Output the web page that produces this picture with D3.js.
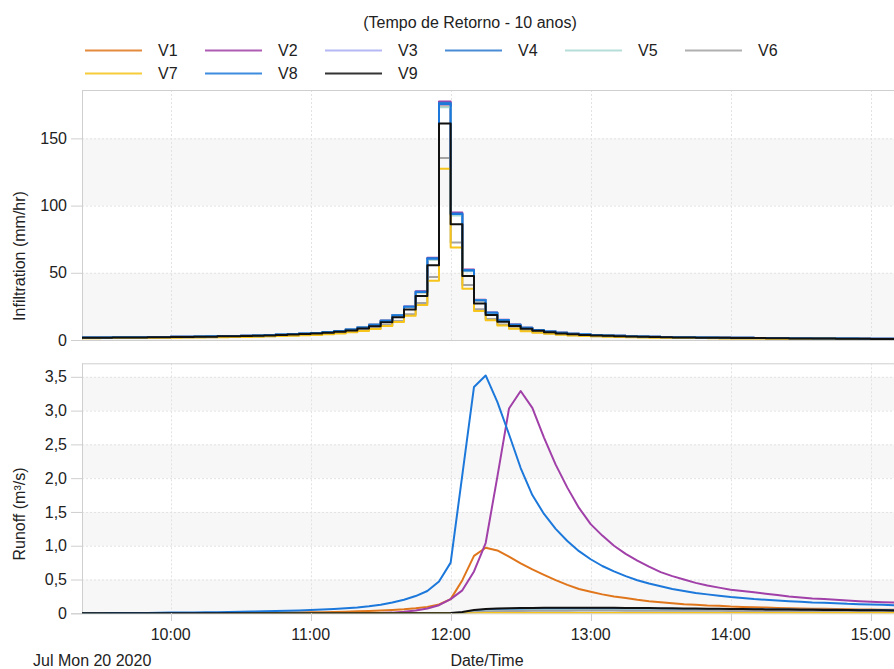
<!DOCTYPE html>
<html>
<head>
<meta charset="utf-8">
<script src="https://cdn.jsdelivr.net/npm/d3@7"></script>
<style>
body { margin: 0; background: #fff; }
svg text { font-family: "Liberation Sans", Arial, sans-serif; fill: #222; }
</style>
</head>
<body>
<svg id="chart"></svg>
<script>
// series names + colours
const names = ["V1", "V2", "V3", "V4", "V5", "V6", "V7", "V8", "V9"]
const colors = ["#e0761c", "#a040a8", "#a8acf4", "#2b78d0", "#a9d9d2", "#a3a3a3", "#f6c41a", "#1c78da", "#111111"]

// every value is one 5 minute step, first step at 09:20
const firstStep = new Date(2020, 6, 20, 9, 20)
const stepMin = 5

// infiltration (mm/hr)
const infV1 = [1.8,1.8,1.9,2.0,2.0,2.1,2.2,2.3,2.4,2.5,2.6,2.7,2.9,3.0,3.2,3.4,3.7,4.0,4.4,4.8,5.3,5.9,6.7,7.8,9.3,11.3,14.3,18.4,24.6,35.5,60.0,174.2,
  93.0,51.4,29.4,20.1,14.8,11.3,9.0,7.4,6.3,5.4,4.7,4.2,3.7,3.4,3.1,2.8,2.6,2.4,2.3,2.1,2.0,1.9,1.8,1.7,1.6,1.6,1.5,1.4,1.4,1.3,1.3,1.2,1.2,1.1,1.1,1.0,0.9,0.9,0.9,0.8]
const infV2 = [1.8,1.8,1.9,2.0,2.0,2.1,2.2,2.3,2.4,2.5,2.6,2.7,2.9,3.0,3.2,3.4,3.7,4.0,4.4,4.8,5.3,5.9,6.7,7.8,9.3,11.4,14.5,18.6,25.0,36.2,61.2,177.5,
  94.8,52.5,29.9,20.4,15.0,11.5,9.2,7.5,6.3,5.4,4.7,4.2,3.7,3.4,3.1,2.8,2.6,2.4,2.3,2.1,2.0,1.9,1.8,1.7,1.6,1.6,1.5,1.4,1.4,1.3,1.3,1.2,1.2,1.1,1.1,1.0,0.9,0.9,0.9,0.8]
const infV3 = [1.8,1.8,1.9,2.0,2.0,2.1,2.2,2.3,2.4,2.5,2.6,2.7,2.9,3.0,3.2,3.4,3.7,4.0,4.4,4.8,5.3,5.9,6.7,7.8,9.3,11.3,14.4,18.4,24.7,35.7,60.3,175.0,
  93.5,51.6,29.5,20.2,14.8,11.3,9.0,7.4,6.3,5.4,4.7,4.2,3.7,3.4,3.1,2.8,2.6,2.4,2.3,2.1,2.0,1.9,1.8,1.7,1.6,1.6,1.5,1.4,1.4,1.3,1.3,1.2,1.2,1.1,1.1,1.0,0.9,0.9,0.9,0.8]
const infV4 = [1.8,1.8,1.9,2.0,2.0,2.1,2.2,2.3,2.4,2.5,2.6,2.7,2.9,3.0,3.2,3.4,3.7,4.0,4.4,4.8,5.3,5.9,6.7,7.8,9.3,11.3,14.4,18.5,24.8,35.9,60.8,176.5,
  94.2,52.1,29.7,20.3,14.9,11.4,9.1,7.5,6.3,5.4,4.7,4.2,3.7,3.4,3.1,2.8,2.6,2.4,2.3,2.1,2.0,1.9,1.8,1.7,1.6,1.6,1.5,1.4,1.4,1.3,1.3,1.2,1.2,1.1,1.1,1.0,0.9,0.9,0.9,0.8]
const infV5 = [1.8,1.8,1.9,2.0,2.0,2.1,2.2,2.3,2.4,2.5,2.6,2.7,2.9,3.0,3.2,3.4,3.7,4.0,4.4,4.8,5.3,5.9,6.7,7.8,9.3,11.3,14.3,18.3,24.5,35.4,59.7,173.2,
  92.6,51.2,29.3,20.0,14.7,11.2,9.0,7.4,6.2,5.3,4.7,4.2,3.7,3.4,3.1,2.8,2.6,2.4,2.3,2.1,2.0,1.9,1.8,1.7,1.6,1.6,1.5,1.4,1.4,1.3,1.3,1.2,1.2,1.1,1.1,1.0,0.9,0.9,0.9,0.8]
const infV6 = [1.4,1.4,1.5,1.5,1.5,1.6,1.7,1.8,1.8,1.9,2.0,2.1,2.2,2.3,2.5,2.6,2.8,3.1,3.4,3.7,4.1,4.5,5.2,6.0,7.2,8.7,11.1,14.2,19.1,27.6,46.8,135.5,
  72.5,40.9,22.9,15.6,11.5,8.8,7.0,5.8,4.9,4.2,3.6,3.2,2.8,2.6,2.4,2.2,2.0,1.8,1.8,1.6,1.5,1.5,1.4,1.3,1.2,1.2,1.2,1.1,1.1,1.0,1.0,0.9,0.9,0.8,0.8,0.8,0.7,0.7,0.7,0.6]
const infV7 = [1.3,1.3,1.4,1.5,1.5,1.5,1.6,1.7,1.7,1.8,1.9,2.0,2.1,2.2,2.3,2.5,2.7,2.9,3.2,3.5,3.8,4.3,4.9,5.7,6.7,8.2,10.4,13.4,18.0,26.0,44.1,127.5,
  68.8,38.2,21.5,14.7,10.8,8.3,6.6,5.4,4.6,3.9,3.4,3.0,2.7,2.5,2.2,2.0,1.9,1.7,1.7,1.5,1.5,1.4,1.3,1.2,1.2,1.2,1.1,1.0,1.0,0.9,0.9,0.9,0.9,0.8,0.8,0.7,0.7,0.7,0.7,0.6]
const infV8 = [1.8,1.8,1.9,2.0,2.0,2.1,2.2,2.3,2.4,2.5,2.6,2.7,2.9,3.0,3.2,3.4,3.7,4.0,4.4,4.8,5.3,5.9,6.7,7.8,9.3,11.3,14.4,18.5,24.7,35.8,60.5,175.6,
  93.8,51.8,29.6,20.2,14.9,11.4,9.1,7.5,6.3,5.4,4.7,4.2,3.7,3.4,3.1,2.8,2.6,2.4,2.3,2.1,2.0,1.9,1.8,1.7,1.6,1.6,1.5,1.4,1.4,1.3,1.3,1.2,1.2,1.1,1.1,1.0,0.9,0.9,0.9,0.8]
const infV9 = [1.6,1.6,1.7,1.8,1.8,1.9,2.0,2.1,2.2,2.3,2.4,2.5,2.7,2.7,2.9,3.1,3.4,3.7,4.0,4.4,4.8,5.4,6.1,7.1,8.5,10.3,13.2,16.9,22.7,32.8,55.6,161.0,
  86.2,47.7,27.2,18.6,13.6,10.4,8.3,6.9,5.8,4.9,4.3,3.8,3.4,3.1,2.8,2.6,2.4,2.2,2.1,1.9,1.8,1.7,1.6,1.6,1.5,1.5,1.4,1.3,1.3,1.2,1.2,1.1,1.1,1.0,1.0,0.9,0.8,0.8,0.8,0.7]

// runoff (m3/s)
const runV1 = [0,0,0,0.001,0.001,0.001,0.002,0.002,0.002,0.003,0.003,0.004,0.004,0.005,0.006,0.007,0.008,0.009,0.011,0.013,0.015,0.017,0.02,0.024,0.029,0.035,0.042,0.05,0.06,0.075,0.095,0.13,
  0.21,0.49,0.85,0.97,0.93,0.84,0.74,0.65,0.57,0.49,0.42,0.36,0.32,0.28,0.25,0.225,0.2,0.18,0.165,0.15,0.135,0.125,0.115,0.11,0.1,0.095,0.09,0.085,0.08,0.075,0.072,0.069,0.066,0.063,0.06,0.058,0.056,0.054,0.052,0.05]
const runV2 = [0,0,0,0,0,0,0,0,0,0,0,0,0,0,0,0,0,0,0,0,0,0,0,0,0,0,0.003,0.01,0.022,0.04,0.07,0.12,
  0.21,0.34,0.62,1.04,2.02,3.03,3.29,3.04,2.6,2.2,1.86,1.56,1.32,1.15,1.0,0.88,0.78,0.69,0.61,0.55,0.5,0.45,0.41,0.38,0.35,0.33,0.31,0.29,0.27,0.25,0.235,0.22,0.21,0.2,0.19,0.18,0.172,0.165,0.158,0.152]
const runV3 = [0,0,0,0,0,0,0,0,0,0,0,0,0,0,0,0,0,0,0,0,0,0,0,0,0,0,0,0,0,0,0,0,
  0,0.008,0.024,0.036,0.042,0.046,0.05,0.051,0.053,0.054,0.054,0.055,0.055,0.055,0.055,0.054,0.054,0.054,0.053,0.052,0.051,0.05,0.05,0.049,0.048,0.047,0.046,0.046,0.045,0.044,0.043,0.042,0.042,0.041,0.04,0.039,0.038,0.038,0.037,0.036]
const runV4 = [0,0,0,0,0,0,0,0,0,0,0,0,0,0,0,0,0,0,0,0,0,0,0,0,0,0,0,0,0,0,0,0,
  0,0.01,0.03,0.045,0.053,0.058,0.062,0.064,0.066,0.067,0.068,0.069,0.069,0.069,0.069,0.068,0.068,0.067,0.066,0.065,0.064,0.063,0.062,0.061,0.06,0.059,0.058,0.057,0.056,0.055,0.054,0.053,0.052,0.051,0.05,0.049,0.048,0.047,0.046,0.045]
const runV5 = [0,0,0,0,0,0,0,0,0,0,0,0,0,0,0,0,0,0,0,0,0,0,0,0,0,0,0,0,0,0,0,0,
  0,0.006,0.02,0.03,0.036,0.04,0.042,0.044,0.045,0.046,0.046,0.046,0.046,0.046,0.045,0.045,0.045,0.044,0.044,0.043,0.042,0.042,0.041,0.04,0.04,0.039,0.038,0.038,0.037,0.036,0.036,0.035,0.035,0.034,0.034,0.033,0.033,0.032,0.032,0.032]
const runV6 = [0,0,0,0,0,0,0,0,0,0,0,0,0,0,0,0,0,0,0,0,0,0,0,0,0,0,0,0,0,0,0,0,
  0,0.004,0.015,0.025,0.03,0.033,0.035,0.037,0.038,0.039,0.039,0.04,0.04,0.04,0.04,0.039,0.039,0.039,0.038,0.038,0.037,0.037,0.036,0.036,0.035,0.035,0.034,0.034,0.033,0.033,0.032,0.032,0.031,0.031,0.03,0.03,0.03,0.029,0.029,0.028]
const runV7 = [0,0,0,0,0,0,0,0,0,0,0,0,0,0,0,0,0,0,0,0,0,0,0,0,0,0,0,0,0,0,0,0,
  0,0.001,0.002,0.003,0.004,0.005,0.005,0.006,0.006,0.006,0.006,0.006,0.006,0.006,0.006,0.006,0.006,0.006,0.006,0.006,0.006,0.006,0.006,0.005,0.005,0.005,0.005,0.005,0.005,0.005,0.005,0.005,0.005,0.005,0.005,0.005,0.004,0.004,0.004,0.004]
const runV8 = [0,0.001,0.002,0.003,0.004,0.005,0.006,0.008,0.01,0.011,0.013,0.015,0.017,0.02,0.023,0.026,0.03,0.034,0.038,0.043,0.049,0.056,0.064,0.074,0.087,0.104,0.128,0.16,0.2,0.255,0.33,0.47,
  0.75,2.05,3.35,3.52,3.13,2.65,2.15,1.75,1.47,1.25,1.07,0.92,0.8,0.7,0.62,0.55,0.49,0.44,0.4,0.36,0.33,0.3,0.28,0.26,0.24,0.225,0.21,0.2,0.19,0.18,0.17,0.16,0.155,0.15,0.14,0.135,0.13,0.125,0.12,0.115]
const runV9 = [0,0,0,0,0,0,0,0,0,0,0,0,0,0,0,0,0,0,0,0,0,0,0,0,0,0,0,0,0,0,0,0,
  0.005,0.02,0.048,0.063,0.07,0.075,0.078,0.08,0.081,0.082,0.083,0.083,0.083,0.082,0.081,0.08,0.079,0.078,0.076,0.074,0.072,0.07,0.068,0.066,0.064,0.062,0.06,0.058,0.056,0.055,0.053,0.052,0.05,0.049,0.047,0.046,0.045,0.044,0.043,0.042]

const infTicks = [0, 50, 100, 150]
const runTicks = [0, 0.5, 1, 1.5, 2, 2.5, 3, 3.5]
const hourTicks = [10, 11, 12, 13, 14, 15]
const chartTitle = "(Tempo de Retorno - 10 anos)"

const infData = [infV1, infV2, infV3, infV4, infV5, infV6, infV7, infV8, infV9]
const runData = [runV1, runV2, runV3, runV4, runV5, runV6, runV7, runV8, runV9]

const W = 894, H = 669
const svg = d3.select("#chart").attr("width", W).attr("height", H)

const day = (h, m) => new Date(2020, 6, 20, h, m)
const x = d3.scaleTime().domain([day(9, 22), day(15, 10)]).range([82, 894])
const yInf = d3.scaleLinear().domain([0, 186]).range([340, 90])
const yRun = d3.scaleLinear().domain([0, 3.7]).range([613.3, 363.3])

const stepTime = i => d3.timeMinute.offset(firstStep, i * stepMin)
const hourDates = hourTicks.map(h => day(h, 0))

const fmtRun = v => v === 0 ? "0" : d3.format(".1f")(v).replace(".", ",")

function panel(id, y, ticks, fmt, data, curve, label, labelY) {
    const g = svg.append("g")
    const [x0, x1] = x.range()
    const [yb, yt] = y.range()

    // alternating bands
    for (let i = 0; i < ticks.length; i += 2) {
        const hi = i + 1 < ticks.length ? ticks[i + 1] : y.domain()[1]
        g.append("rect")
            .attr("x", x0).attr("width", x1 - x0)
            .attr("y", y(hi)).attr("height", y(ticks[i]) - y(hi))
            .style("fill", "#f7f7f7")
    }

    // dotted grid
    g.selectAll(".hg").data(ticks.filter(t => t > 0)).enter().append("line")
        .attr("x1", x0).attr("x2", x1)
        .attr("y1", d => y(d) + 0.5).attr("y2", d => y(d) + 0.5)
        .style("stroke", "#e2e2e2").style("stroke-dasharray", "2,2")
    g.selectAll(".vg").data(hourDates).enter().append("line")
        .attr("x1", d => Math.round(x(d)) + 0.5).attr("x2", d => Math.round(x(d)) + 0.5)
        .attr("y1", yt).attr("y2", yb)
        .style("stroke", "#e2e2e2").style("stroke-dasharray", "2,2")

    // frame
    g.append("line").attr("x1", x0).attr("x2", x1).attr("y1", yt + 0.5).attr("y2", yt + 0.5).style("stroke", "#cfcfcf")
    g.append("line").attr("x1", x0 + 0.5).attr("x2", x0 + 0.5).attr("y1", yt).attr("y2", yb).style("stroke", "#cfcfcf")
    g.append("line").attr("x1", x0 - 11).attr("x2", x1).attr("y1", yb + 0.5).attr("y2", yb + 0.5).style("stroke", "#cfcfcf")

    // y ticks
    g.selectAll(".yt").data(ticks).enter().append("line")
        .attr("x1", x0 - 11).attr("x2", x0)
        .attr("y1", d => y(d) + 0.5).attr("y2", d => y(d) + 0.5)
        .style("stroke", "#cfcfcf")
    g.selectAll(".yl").data(ticks).enter().append("text")
        .attr("x", x0 - 15).attr("y", d => y(d))
        .attr("dy", "0.35em")
        .style("text-anchor", "end").style("font-size", "16px")
        .text(fmt)

    g.append("text")
        .attr("transform", "translate(19," + labelY + ") rotate(-90)")
        .attr("dy", "0.35em")
        .style("text-anchor", "middle").style("font-size", "16px")
        .text(label)

    // series
    svg.append("clipPath").attr("id", id)
        .append("rect").attr("x", x0).attr("y", yt).attr("width", x1 - x0).attr("height", yb - yt)

    const line = d3.line()
        .x((d, i) => x(stepTime(i)))
        .y(d => y(d))
        .curve(curve)

    g.append("g").attr("clip-path", "url(#" + id + ")")
        .selectAll("path").data(data).enter().append("path")
        .attr("d", line)
        .style("fill", "none")
        .style("stroke", (d, i) => colors[i])
        .style("stroke-width", 2)
        .style("stroke-linejoin", "round")
}

panel("clipInf", yInf, infTicks, d => d, infData, d3.curveStepAfter, "Infiltration (mm/hr)", 256)
panel("clipRun", yRun, runTicks, fmtRun, runData, d3.curveLinear, "Runoff (m\u00b3/s)", 514)

// x axis under the runoff panel
const xa = svg.append("g")
xa.selectAll("line").data(hourDates).enter().append("line")
    .attr("x1", d => Math.round(x(d)) + 0.5).attr("x2", d => Math.round(x(d)) + 0.5)
    .attr("y1", 613).attr("y2", 621)
    .style("stroke", "#cfcfcf")
xa.selectAll("text").data(hourDates).enter().append("text")
    .attr("x", d => x(d)).attr("y", 640)
    .style("text-anchor", "middle").style("font-size", "16px")
    .text(d3.timeFormat("%H:%M"))

svg.append("text").attr("x", 33).attr("y", 666)
    .style("font-size", "16px").text("Jul Mon 20 2020")
svg.append("text").attr("x", 487).attr("y", 666)
    .style("text-anchor", "middle").style("font-size", "16px").text("Date/Time")

// legend
svg.append("text").attr("x", 470).attr("y", 28)
    .style("text-anchor", "middle").style("font-size", "16px").text(chartTitle)

const leg = svg.append("g").selectAll("g").data(names).enter().append("g")
    .attr("transform", (d, i) => "translate(" + (85 + (i % 6) * 120) + "," + (50 + Math.floor(i / 6) * 23) + ")")
leg.append("line").attr("x1", 0).attr("x2", 57).attr("y1", 0.5).attr("y2", 0.5)
    .style("stroke", (d, i) => colors[i]).style("stroke-width", 2).style("opacity", 0.85)
leg.append("text").attr("x", 73).attr("dy", "0.35em")
    .style("font-size", "16px").text(d => d)
</script>
</body>
</html>
